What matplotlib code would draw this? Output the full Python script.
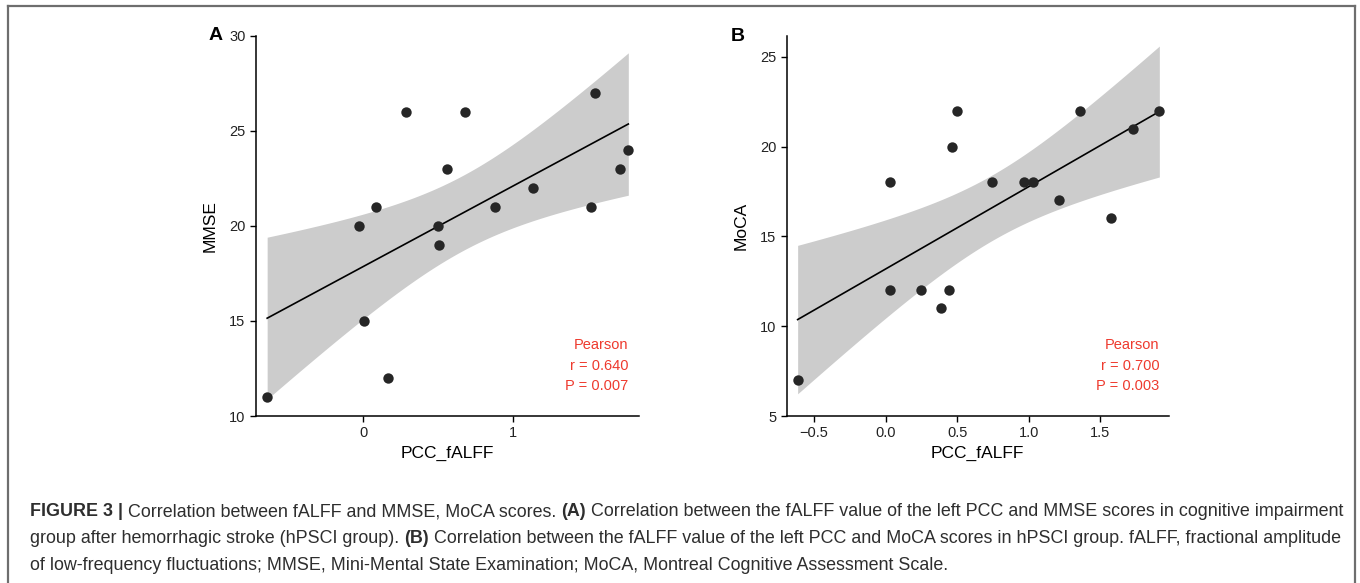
import numpy as np
import matplotlib
matplotlib.use("Agg")
import matplotlib.pyplot as plt
from matplotlib.lines import Line2D

# Panel A: PCC_fALFF vs MMSE
a_x = [-0.643, 0.005, 0.165, -0.03, 0.085, 0.286, 0.50, 0.505, 0.558, 0.683,
       0.879, 1.134, 1.526, 1.553, 1.720, 1.774]
a_y = [11, 15, 12, 20, 21, 26, 20, 19, 23, 26, 21, 22, 21, 27, 23, 24]

# Panel B: PCC_fALFF vs MoCA
b_x = [-0.615, 0.030, 0.245, 0.385, 0.445, 0.030, 0.462, 0.501, 0.744, 0.970,
       1.028, 1.214, 1.359, 1.573, 1.731, 1.913]
b_y = [7, 12, 12, 11, 12, 18, 20, 22, 18, 18, 18, 17, 22, 16, 21, 22]

a_stats = ["Pearson", "r = 0.640", "P = 0.007"]
b_stats = ["Pearson", "r = 0.700", "P = 0.003"]

T_CRIT = 2.145  # t(0.975, df=14)

RED = "#ee3a2e"
DOT = "#262626"
BAND = "#cccccc"

plt.rcParams["font.family"] = ["Liberation Sans", "DejaVu Sans"]


def fit_band(x, y, n_grid=200):
    x = np.asarray(x, float)
    y = np.asarray(y, float)
    n = len(x)
    slope, icpt = np.polyfit(x, y, 1)
    grid = np.linspace(x.min(), x.max(), n_grid)
    pred = icpt + slope * grid
    resid = y - (icpt + slope * x)
    s = np.sqrt(np.sum(resid ** 2) / (n - 2))
    se = s * np.sqrt(1 / n + (grid - x.mean()) ** 2 / np.sum((x - x.mean()) ** 2))
    return grid, pred, pred - T_CRIT * se, pred + T_CRIT * se


def panel(ax, x, y, stats, xlim, ylim, xticks, yticks, ylabel, letter, letter_x):
    grid, pred, lo, hi = fit_band(x, y)
    ax.fill_between(grid, lo, hi, color=BAND, lw=0, zorder=1)
    ax.plot(grid, pred, color="black", lw=1.2, zorder=2)
    ax.scatter(x, y, s=56, color=DOT, lw=0, zorder=3)
    ax.set_xlim(*xlim)
    ax.set_ylim(*ylim)
    ax.set_xticks(xticks)
    ax.set_yticks(yticks)
    if any(isinstance(t, float) and t != int(t) for t in xticks):
        ax.set_xticklabels([f"{t:.1f}".replace("-", "\u2212") for t in xticks])
    for side in ("top", "right"):
        ax.spines[side].set_visible(False)
    for side in ("left", "bottom"):
        ax.spines[side].set_linewidth(1.1)
    ax.tick_params(length=4.5, width=1.0, labelsize=10.5, colors="black",
                   labelcolor="#222222", pad=3)
    ax.set_xlabel("PCC_fALFF", fontsize=12.5, labelpad=4)
    ax.set_ylabel(ylabel, fontsize=12.5, labelpad=8)
    ax.text(max(x), ylim[0] + (ylim[1] - ylim[0]) * 0.06, "\n".join(stats),
            color=RED, fontsize=10.5, ha="right", va="bottom", linespacing=1.6)
    ax.text(letter_x, 1.0, letter, transform=ax.transAxes, fontsize=14,
            fontweight="bold", ha="left", va="center")


fig = plt.figure(figsize=(13.6, 5.83), dpi=100)
ax_a = fig.add_axes([0.1882, 0.2864, 0.2816, 0.6523])
ax_b = fig.add_axes([0.5784, 0.2864, 0.2811, 0.6518])

panel(ax_a, a_x, a_y, a_stats, (-0.718, 1.845), (10, 30),
      [0, 1], [10, 15, 20, 25, 30], "MMSE", "A", -0.125)
panel(ax_b, b_x, b_y, b_stats, (-0.692, 1.98), (5, 26.15),
      [-0.5, 0.0, 0.5, 1.0, 1.5], [5, 10, 15, 20, 25], "MoCA", "B", -0.145)

# frame around the figure (open at the bottom)
frame = dict(color="#6e6e6e", lw=1.6, transform=fig.transFigure)
fig.add_artist(Line2D([8 / 1360, 8 / 1360], [0, 1 - 6 / 583], **frame))
fig.add_artist(Line2D([8 / 1360, 1355 / 1360], [1 - 6 / 583, 1 - 6 / 583], **frame))
fig.add_artist(Line2D([1355 / 1360, 1355 / 1360], [0, 1 - 6 / 583], **frame))

# caption
cap_col = "#2e2e2e"
cap_fs = 12.85
y1 = 1 - 512 / 583
dy = 26.5 / 583
x0 = 30 / 1360


def rich_line(fig, x, y, parts):
    r = fig.canvas.get_renderer()
    for txt, bold in parts:
        t = fig.text(x, y, txt, fontsize=cap_fs, color=cap_col, ha="left",
                     va="center", fontweight="bold" if bold else "normal")
        bb = t.get_window_extent(renderer=r)
        x += bb.width / fig.bbox.width


rich_line(fig, x0, y1, [
    ("FIGURE 3 |", True),
    (" Correlation between fALFF and MMSE, MoCA scores. ", False),
    ("(A)", True),
    (" Correlation between the fALFF value of the left PCC and MMSE scores in cognitive impairment", False),
])
rich_line(fig, x0, y1 - dy, [
    ("group after hemorrhagic stroke (hPSCI group). ", False),
    ("(B)", True),
    (" Correlation between the fALFF value of the left PCC and MoCA scores in hPSCI group. fALFF, fractional amplitude", False),
])
rich_line(fig, x0, y1 - 2 * dy, [
    ("of low-frequency fluctuations; MMSE, Mini-Mental State Examination; MoCA, Montreal Cognitive Assessment Scale.", False),
])

fig.savefig("out.png", dpi=100)
